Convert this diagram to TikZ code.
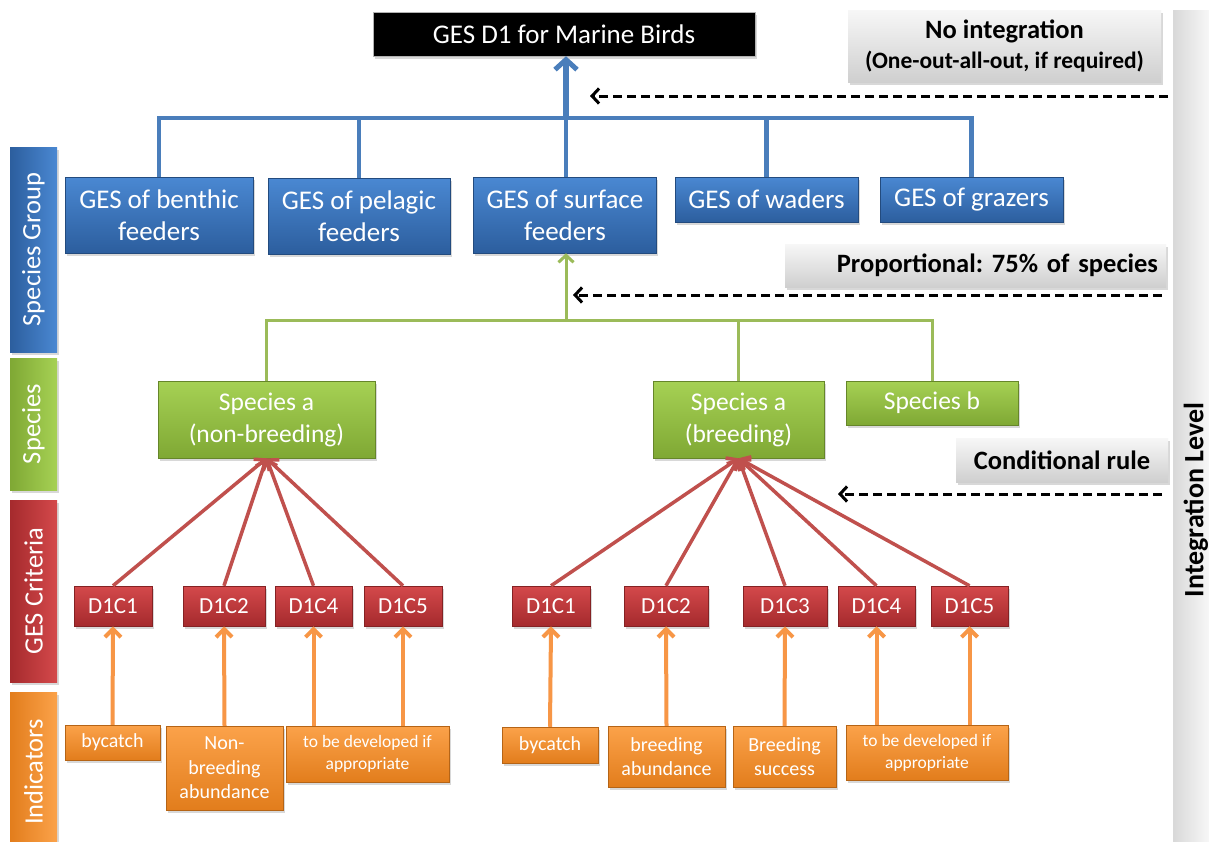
\documentclass[tikz,border=0pt]{standalone}
\usepackage{fontspec}
\setmainfont{Carlito}
\frenchspacing
\usetikzlibrary{arrows.meta,shadows}

\definecolor{bluetop}{HTML}{4A88D2}
\definecolor{bluebot}{HTML}{2C5E9E}
\definecolor{blueline}{HTML}{4A7EBB}
\definecolor{greentop}{HTML}{A6D154}
\definecolor{greenbot}{HTML}{7FA834}
\definecolor{greenline}{HTML}{9BBB59}
\definecolor{redtop}{HTML}{D4494B}
\definecolor{redbot}{HTML}{A52A2D}
\definecolor{redline}{HTML}{C0504D}
\definecolor{orangetop}{HTML}{FBA24A}
\definecolor{orangebot}{HTML}{E27D1C}
\definecolor{orangeline}{HTML}{F79646}
\definecolor{graytop}{HTML}{F7F7F7}
\definecolor{graybot}{HTML}{CFCFCF}

\tikzset{
  box/.style={rectangle, inner sep=0pt, align=center, text=white,
    drop shadow={shadow xshift=1.5pt, shadow yshift=-2.5pt, opacity=0.3}},
  bluebox/.style={box, top color=bluetop, bottom color=bluebot, draw=bluebot!80!black, line width=0.5pt, font=\fontsize{27}{32}\selectfont},
  greenbox/.style={box, top color=greentop, bottom color=greenbot, draw=greenbot!80!black, line width=0.5pt, font=\fontsize{25.5}{32}\selectfont},
  redbox/.style={box, top color=redtop, bottom color=redbot, draw=redbot!80!black, line width=0.5pt, font=\fontsize{23}{28}\selectfont},
  orangebox/.style={box, top color=orangetop, bottom color=orangebot, draw=orangebot!80!black, line width=0.5pt, font=\fontsize{20}{24.5}\selectfont},
  smallorange/.style={orangebox, font=\fontsize{17.5}{22}\selectfont},
  graybox/.style={box, text=black, top color=graytop, bottom color=graybot, draw=none, font=\bfseries\fontsize{26.5}{30}\selectfont},
  sidebar/.style={box, rotate=90, font=\fontsize{26.5}{30}\selectfont},
  bluewire/.style={draw=blueline, line width=4.5pt},
  greenwire/.style={draw=greenline, line width=3pt},
  redwire/.style={draw=redline, line width=3.5pt, -{Straight Barb[length=8pt,width=15pt,line width=3.5pt]}},
  orangewire/.style={draw=orangeline, line width=4pt, -{Straight Barb[length=8pt,width=16pt,line width=4pt]}},
  dasharrow/.style={draw=black, line width=3pt, dash pattern=on 9pt off 5pt, -{Straight Barb[length=7pt,width=15pt,line width=3pt]}},
}

\begin{document}
\begin{tikzpicture}[x=1pt,y=-1pt]
\useasboundingbox (0,0) rectangle (1209,841);
\fill[white] (0,0) rectangle (1209,841);

% Integration level bar on the right
\node[rectangle, inner sep=0pt, minimum width=36pt, minimum height=831pt, left color=graybot!80, right color=graytop] (intbar) at (1191,425.5) {};
\node[rotate=90, font=\bfseries\fontsize{28}{30}\selectfont] (intlabel) at (1196,500) {Integration Level};

% Level bars on the left
\node[sidebar, left color=bluebot, right color=bluetop, minimum width=205pt, minimum height=47pt] (lgroup) at (33.5,249.5) {Species Group};
\node[sidebar, left color=greenbot, right color=greentop, minimum width=132pt, minimum height=47pt] (lspecies) at (33.5,424) {Species};
\node[sidebar, left color=redbot, right color=redtop, minimum width=182pt, minimum height=47pt] (lcrit) at (33.5,591) {GES Criteria};
\node[sidebar, left color=orangebot, right color=orangetop, minimum width=160pt, minimum height=47pt] (lind) at (33.5,772) {Indicators};

% Top level
\node[box, fill=black, draw=gray!60, line width=0.5pt, minimum width=382pt, minimum height=44pt, font=\fontsize{27}{32}\selectfont] (top) at (564,34) {GES D1 for Marine Birds};

% Species groups
\node[bluebox, minimum width=188pt, minimum height=76pt] (benthic) at (159,215) {GES of benthic\\feeders};
\node[bluebox, minimum width=182pt, minimum height=76pt] (pelagic) at (359,216) {GES of pelagic\\feeders};
\node[bluebox, minimum width=183pt, minimum height=76pt] (surface) at (565,215) {GES of surface\\feeders};
\node[bluebox, minimum width=183pt, minimum height=45pt] (waders) at (766.5,199.5) {GES of waders};
\node[bluebox, minimum width=183pt, minimum height=45pt] (grazers) at (971.5,199.5) {GES of grazers};

% Species
\node[greenbox, minimum width=217pt, minimum height=77pt] (spa1) at (266.5,419.5) {Species a\\(non-breeding)};
\node[greenbox, minimum width=171pt, minimum height=77pt] (spa2) at (738.5,419.5) {Species a\\(breeding)};
\node[greenbox, minimum width=172pt, minimum height=44pt] (spb) at (932,403) {Species b};

% Criteria
\node[redbox, minimum width=78pt, minimum height=40pt] (c1) at (113,606) {D1C1};
\node[redbox, minimum width=82pt, minimum height=40pt] (c2) at (224,606) {D1C2};
\node[redbox, minimum width=77pt, minimum height=40pt] (c4) at (313.5,606) {D1C4};
\node[redbox, minimum width=78pt, minimum height=40pt] (c5) at (403,606) {D1C5};
\node[redbox, minimum width=78pt, minimum height=40pt] (r1) at (551,606) {D1C1};
\node[redbox, minimum width=84pt, minimum height=40pt] (r2) at (666,606) {D1C2};
\node[redbox, minimum width=84pt, minimum height=40pt] (r3) at (785,606) {D1C3};
\node[redbox, minimum width=77pt, minimum height=40pt] (r4) at (876.5,606) {D1C4};
\node[redbox, minimum width=77pt, minimum height=40pt] (r5) at (969.5,606) {D1C5};

% Indicators
\node[orangebox, minimum width=95pt, minimum height=35pt] (i1) at (112.5,742.5) {bycatch};
\node[orangebox, minimum width=117pt, minimum height=84pt] (i2) at (224.5,768) {Non-\\breeding\\abundance};
\node[smallorange, minimum width=163pt, minimum height=56pt] (i45) at (367.5,754) {to be developed if\\appropriate};
\node[orangebox, minimum width=96pt, minimum height=36pt] (j1) at (550,745) {bycatch};
\node[orangebox, minimum width=117pt, minimum height=61pt] (j2) at (666.5,756.5) {breeding\\abundance};
\node[orangebox, minimum width=103pt, minimum height=61pt] (j3) at (784.5,756.5) {Breeding\\success};
\node[smallorange, minimum width=162pt, minimum height=55pt] (j45) at (927,752.5) {to be developed if\\appropriate};

% Integration rule labels
\node[graybox, minimum width=313pt, minimum height=72pt] (noint) at (1004.5,46) {No integration\\{\fontsize{23.5}{28}\selectfont (One-out-all-out, if required)}};
\node[graybox, minimum width=381pt, minimum height=43pt, text width=365pt, align=right] (prop) at (975.5,265.5) {Proportional: 75\% of species};
\node[graybox, minimum width=212pt, minimum height=44pt] (cond) at (1062,460) {Conditional rule};

% Blue bus
\coordinate (bbus) at (566,118);
\draw[bluewire] (benthic.north) |- (bbus) -| (grazers.north);
\draw[bluewire] (pelagic.north) -- (pelagic.north |- bbus);
\draw[bluewire] (waders.north) -- (waders.north |- bbus);
\draw[bluewire] (bbus) -- (bbus |- surface.north);
\draw[draw=blueline, line width=5.5pt, -{Straight Barb[length=10pt,width=22pt,line width=5pt]}] (bbus) -- (bbus |- top.south);

% Green bus
\coordinate (gbus) at (566,320);
\draw[greenwire] (spa1.north) |- (gbus) -| (spb.north);
\draw[greenwire] (spa2.north) -- (spa2.north |- gbus);
\draw[greenwire, -{Straight Barb[length=7pt,width=15pt,line width=3pt]}] (gbus) -- (gbus |- surface.south);

% Criteria to species
\foreach \c in {c1,c2,c4,c5} \draw[redwire] (\c.north) -- (spa1.south);
\foreach \c in {r1,r2,r3,r4,r5} \draw[redwire] (\c.north) -- (spa2.south);

% Indicators to criteria
\draw[orangewire] (i1.north) -- (c1.south);
\draw[orangewire] (i2.north) -- (c2.south);
\draw[orangewire] (i45.north -| c4.south) -- (c4.south);
\draw[orangewire] (i45.north -| c5.south) -- (c5.south);
\draw[orangewire] (j1.north) -- (r1.south);
\draw[orangewire] (j2.north) -- (r2.south);
\draw[orangewire] (j3.north) -- (r3.south);
\draw[orangewire] (j45.north -| r4.south) -- (r4.south);
\draw[orangewire] (j45.north -| r5.south) -- (r5.south);

% Dashed integration markers
\coordinate (d1s) at (1168,96);
\coordinate (d1e) at (590,96);
\coordinate (d2s) at (1162,295);
\coordinate (d2e) at (573,295);
\coordinate (d3s) at (1162,494);
\coordinate (d3e) at (838,494);
\draw[dasharrow] (d1s) -- (d1e);
\draw[dasharrow] (d2s) -- (d2e);
\draw[dasharrow] (d3s) -- (d3e);
\end{tikzpicture}
\end{document}
